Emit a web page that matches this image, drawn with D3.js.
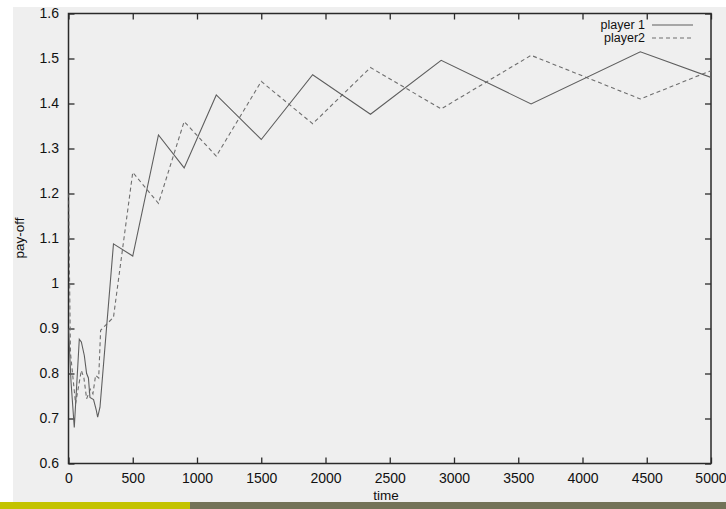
<!DOCTYPE html>
<html><head><meta charset="utf-8">
<script src="https://cdn.jsdelivr.net/npm/d3@7"></script>
<style>
html,body{margin:0;padding:0;background:#fff;}
svg{display:block;font-family:"Liberation Sans",Arial,Helvetica,sans-serif;}
</style></head>
<body>
<svg id="chart" width="726" height="509"></svg>
<script>
// ---- data ----
const p1Time  = [0, 20, 45, 65, 84, 100, 123, 141, 155, 167, 195, 215, 227, 245, 350, 500, 700, 900, 1150, 1500, 1900, 2350, 2900, 3600, 4450, 5000];
const p1Value = [0.90, 0.78, 0.68, 0.78, 0.876, 0.87, 0.84, 0.80, 0.79, 0.747, 0.742, 0.72, 0.703, 0.725, 1.088, 1.061, 1.330, 1.257, 1.419, 1.320, 1.464, 1.376, 1.496, 1.399, 1.515, 1.458];
const p2Time  = [0, 15, 55, 100, 120, 141, 170, 190, 211, 235, 250, 350, 500, 700, 900, 1150, 1500, 1900, 2350, 2900, 3600, 4450, 5000];
const p2Value = [1.20, 0.847, 0.733, 0.807, 0.79, 0.744, 0.765, 0.755, 0.796, 0.79, 0.896, 0.925, 1.247, 1.178, 1.360, 1.283, 1.449, 1.355, 1.480, 1.388, 1.507, 1.410, 1.473];
const xTicks = [0, 500, 1000, 1500, 2000, 2500, 3000, 3500, 4000, 4500, 5000];
const yTicks = [0.6, 0.7, 0.8, 0.9, 1.0, 1.1, 1.2, 1.3, 1.4, 1.5, 1.6];
const seriesNames = ["player 1", "player2"];
const xLabel = "time", yLabel = "pay-off";

// ---- layout ----
const svg = d3.select("#chart");
const L = 68.5, R = 711, T = 13.5, B = 463.5;
const x = d3.scaleLinear().domain([0, 5000]).range([L, R]);
const y = d3.scaleLinear().domain([0.6, 1.6]).range([B, T]);

// backgrounds
svg.append("rect").attr("x", 13).attr("y", 7).attr("width", 713).attr("height", 496).attr("fill", "#efefef");
svg.append("rect").attr("x", 0).attr("y", 502).attr("width", 190).attr("height", 7).attr("fill", "#c3c300");
svg.append("rect").attr("x", 190).attr("y", 502).attr("width", 536).attr("height", 7).attr("fill", "#737358");

const font = "14px";
const axisColor = "#2a2a2a";

// axes with inward ticks
const gx = svg.append("g").attr("transform", `translate(0,${B})`)
  .call(d3.axisBottom(x).tickValues(xTicks).tickSize(-6).tickPadding(10).tickFormat(d3.format("d")));
const gxTop = svg.append("g").attr("transform", `translate(0,${T})`)
  .call(d3.axisTop(x).tickValues(xTicks).tickSize(-6).tickFormat(""));
const gy = svg.append("g").attr("transform", `translate(${L},0)`)
  .call(d3.axisLeft(y).tickValues(yTicks).tickSize(-6).tickPadding(9.5).tickFormat(d => d === 1 ? "1" : d3.format(".1f")(d)));
const gyR = svg.append("g").attr("transform", `translate(${R},0)`)
  .call(d3.axisRight(y).tickValues(yTicks).tickSize(-6).tickFormat(""));

[gx, gxTop, gy, gyR].forEach(g => {
  g.select(".domain").remove();
  g.selectAll(".tick line").attr("stroke", axisColor).attr("stroke-width", 1.3);
  g.selectAll(".tick text").attr("fill", "#111").style("font-size", font).style("font-family", "'Liberation Sans',Arial,sans-serif");
});
// keep the last label inside the window, as in the reference
gx.selectAll(".tick text").filter(d => d === 5000).attr("text-anchor", "end").attr("x", 15);

// frame
svg.append("rect").attr("x", L).attr("y", T).attr("width", R - L).attr("height", B - T)
  .attr("fill", "none").attr("stroke", axisColor).attr("stroke-width", 1.5);

// lines
const line = d3.line().x(d => x(d[0])).y(d => y(d[1]));
const p1 = p1Time.map((t, i) => [t, p1Value[i]]);
const p2 = p2Time.map((t, i) => [t, p2Value[i]]);
svg.append("clipPath").attr("id", "clp").append("rect")
  .attr("x", L).attr("y", T).attr("width", R - L).attr("height", B - T);
svg.append("path").datum(p2).attr("d", line).attr("fill", "none")
  .attr("stroke", "#6e6e6e").attr("stroke-width", 1.1).attr("stroke-dasharray", "4,3").attr("clip-path", "url(#clp)");
svg.append("path").datum(p1).attr("d", line).attr("fill", "none")
  .attr("stroke", "#5e5e5e").attr("stroke-width", 1.1).attr("clip-path", "url(#clp)");

// legend
const leg = svg.append("g");
[0, 1].forEach(i => {
  const yy = 25 + i * 13;
  leg.append("text").attr("x", 645).attr("y", yy).attr("dy", "0.35em").attr("text-anchor", "end")
    .style("font-size", "12.5px").attr("fill", "#111").text(seriesNames[i]);
  leg.append("line").attr("x1", 652).attr("x2", 693).attr("y1", yy).attr("y2", yy)
    .attr("stroke", i === 0 ? "#5e5e5e" : "#6e6e6e").attr("stroke-width", 1.1)
    .attr("stroke-dasharray", i === 0 ? null : "4,3");
});

// axis titles
svg.append("text").attr("x", 386).attr("y", 500).attr("text-anchor", "middle")
  .style("font-size", "13.5px").attr("fill", "#111").text(xLabel);
svg.append("text").attr("transform", "translate(24,238) rotate(-90)").attr("text-anchor", "middle")
  .style("font-size", "13.5px").attr("fill", "#111").text(yLabel);
</script>
</body></html>
